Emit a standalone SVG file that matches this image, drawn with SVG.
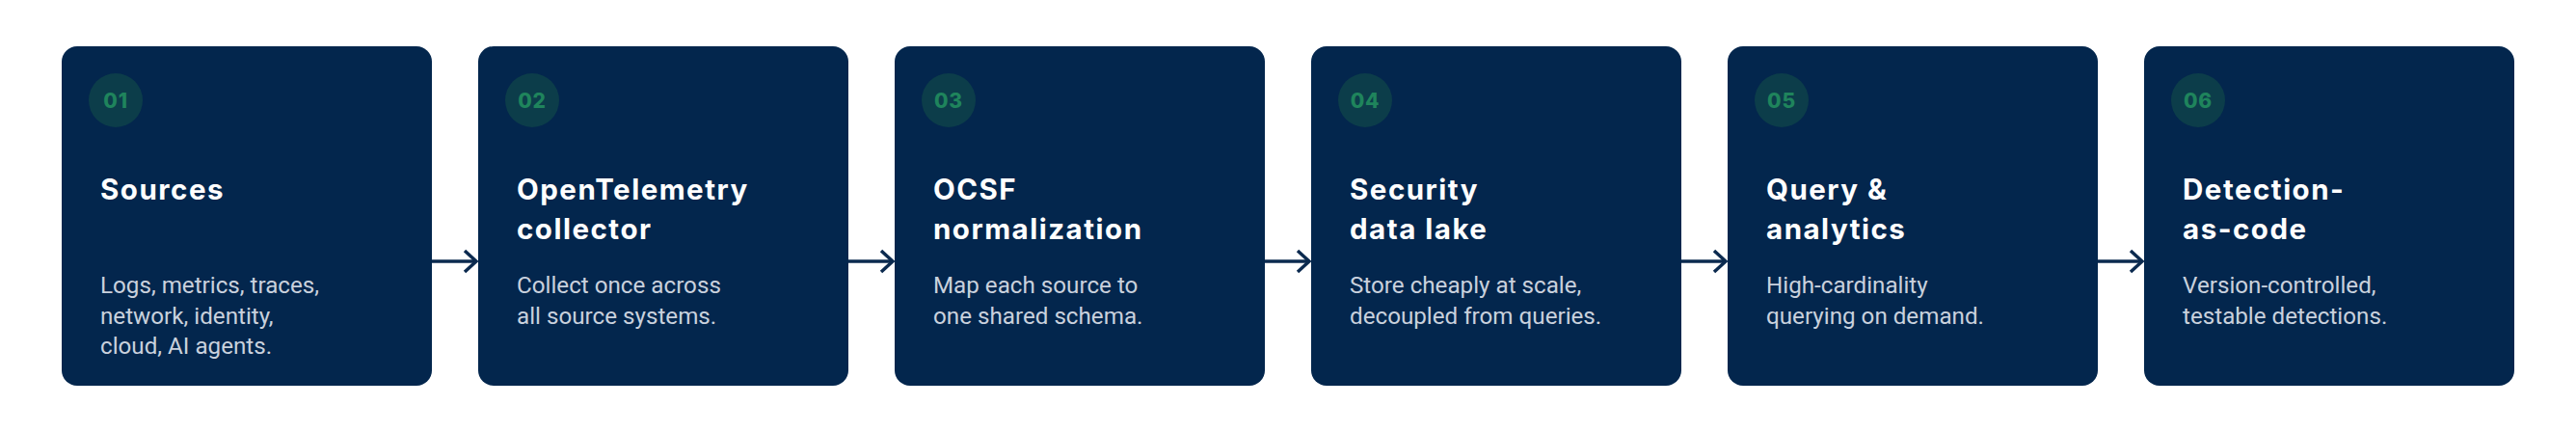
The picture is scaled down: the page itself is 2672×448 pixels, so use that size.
<svg xmlns="http://www.w3.org/2000/svg" width="2672" height="448" viewBox="0 0 2672 448">
<defs>
<style>
.card{fill:#03264d}
.badge{fill:#0c3d4a}
.num{font-family:Inter,"Noto Sans",sans-serif;font-weight:800;font-size:21px;letter-spacing:0.8px;fill:#1f845c}
.title{font-family:Inter,"Noto Sans",sans-serif;font-weight:700;font-size:29.5px;letter-spacing:1.5px;fill:#ffffff}
.desc{font-family:Roboto,"Liberation Sans",sans-serif;font-size:24.2px;fill:#c9d1dd}
.conn{fill:none;stroke:#0b2a4f;stroke-width:3.5}
</style>
<marker id="chev" viewBox="0 0 16 26" refX="14" refY="13" markerWidth="16" markerHeight="26" markerUnits="userSpaceOnUse" orient="auto">
<path d="M2 2 L14 13 L2 24" fill="none" stroke="#0b2a4f" stroke-width="3.5"/>
</marker>
</defs>
<rect width="2672" height="448" fill="#ffffff"/>
<g id="connectors">
<line class="conn" x1="448" y1="271" x2="494" y2="271" marker-end="url(#chev)"/>
<line class="conn" x1="880" y1="271" x2="926" y2="271" marker-end="url(#chev)"/>
<line class="conn" x1="1312" y1="271" x2="1358" y2="271" marker-end="url(#chev)"/>
<line class="conn" x1="1744" y1="271" x2="1790" y2="271" marker-end="url(#chev)"/>
<line class="conn" x1="2176" y1="271" x2="2222" y2="271" marker-end="url(#chev)"/>
</g>
<g id="node1">
<rect class="card" x="64" y="48" width="384" height="352" rx="16"/>
<circle class="badge" cx="120" cy="104" r="28"/>
<text class="num" x="120" y="111.5" text-anchor="middle">01</text>
<text class="title" x="104" y="207">Sources</text>
<text class="desc" x="104" y="304">Logs, metrics, traces,</text>
<text class="desc" x="104" y="335.5">network, identity,</text>
<text class="desc" x="104" y="367">cloud, AI agents.</text>
</g>
<g id="node2">
<rect class="card" x="496" y="48" width="384" height="352" rx="16"/>
<circle class="badge" cx="552" cy="104" r="28"/>
<text class="num" x="552" y="111.5" text-anchor="middle">02</text>
<text class="title" x="536" y="207">OpenTelemetry</text>
<text class="title" x="536" y="248">collector</text>
<text class="desc" x="536" y="304">Collect once across</text>
<text class="desc" x="536" y="335.5">all source systems.</text>
</g>
<g id="node3">
<rect class="card" x="928" y="48" width="384" height="352" rx="16"/>
<circle class="badge" cx="984" cy="104" r="28"/>
<text class="num" x="984" y="111.5" text-anchor="middle">03</text>
<text class="title" x="968" y="207">OCSF</text>
<text class="title" x="968" y="248">normalization</text>
<text class="desc" x="968" y="304">Map each source to</text>
<text class="desc" x="968" y="335.5">one shared schema.</text>
</g>
<g id="node4">
<rect class="card" x="1360" y="48" width="384" height="352" rx="16"/>
<circle class="badge" cx="1416" cy="104" r="28"/>
<text class="num" x="1416" y="111.5" text-anchor="middle">04</text>
<text class="title" x="1400" y="207">Security</text>
<text class="title" x="1400" y="248">data lake</text>
<text class="desc" x="1400" y="304">Store cheaply at scale,</text>
<text class="desc" x="1400" y="335.5">decoupled from queries.</text>
</g>
<g id="node5">
<rect class="card" x="1792" y="48" width="384" height="352" rx="16"/>
<circle class="badge" cx="1848" cy="104" r="28"/>
<text class="num" x="1848" y="111.5" text-anchor="middle">05</text>
<text class="title" x="1832" y="207">Query &amp;</text>
<text class="title" x="1832" y="248">analytics</text>
<text class="desc" x="1832" y="304">High-cardinality</text>
<text class="desc" x="1832" y="335.5">querying on demand.</text>
</g>
<g id="node6">
<rect class="card" x="2224" y="48" width="384" height="352" rx="16"/>
<circle class="badge" cx="2280" cy="104" r="28"/>
<text class="num" x="2280" y="111.5" text-anchor="middle">06</text>
<text class="title" x="2264" y="207">Detection-</text>
<text class="title" x="2264" y="248">as-code</text>
<text class="desc" x="2264" y="304">Version-controlled,</text>
<text class="desc" x="2264" y="335.5">testable detections.</text>
</g>
</svg>
